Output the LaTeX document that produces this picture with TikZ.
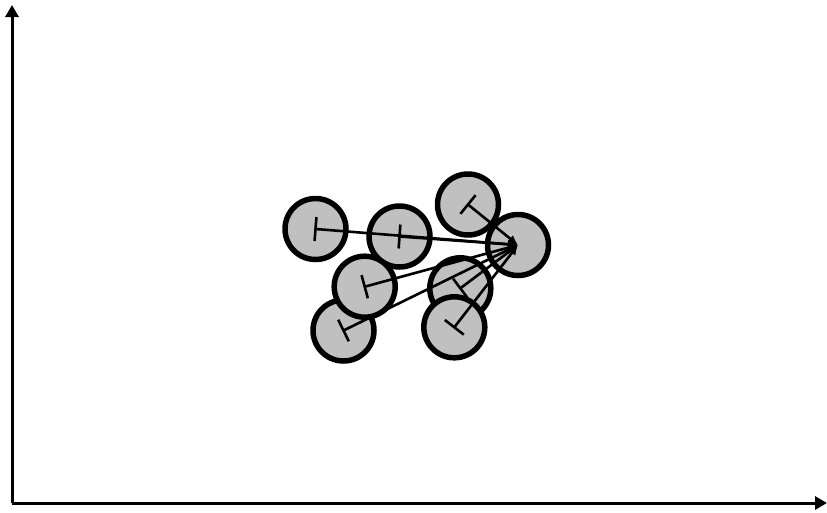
\documentclass[tikz,border=0pt]{standalone}
\usetikzlibrary{arrows.meta,calc}
\definecolor{disc}{RGB}{192,192,192}
\tikzset{
  agent/.style={circle,draw=black,fill=disc,line width=5.5pt,minimum size=61pt,inner sep=0pt},
  axis/.style={line width=3pt,-{Triangle[length=12pt,width=13pt]}},
  pull/.style={line width=2.6pt,-{Latex[length=10pt,width=9pt]}},
  bar/.style={line width=2.6pt}
}
\begin{document}
\begin{tikzpicture}[x=1pt,y=-1pt]
\useasboundingbox (0,0) rectangle (827,512);
\coordinate (o) at (12,503);
\coordinate (ytop) at (12,5);
\coordinate (xend) at (827,503);
\draw[axis] (o) -- (ytop);
\draw[axis] (o) -- (xend);
% discs
\node[agent] (c1) at (315.5,229) {};
\node[agent] (c2) at (399.5,236.5) {};
\node[agent] (c3) at (468,204.5) {};
\node[agent] (t) at (518,245) {};
\node[agent] (c6) at (343.5,330.5) {};
\node[agent] (c5) at (364.7,286.7) {};
\node[agent] (c7) at (460.3,288.3) {};
\node[agent] (c8) at (454.3,327.3) {};
% bars and pulls
\foreach \c in {c1,c2,c3,c5,c6,c7,c8}{
  \draw[bar] ($(\c.center)!12pt!90:(t.center)$) -- ($(\c.center)!12pt!-90:(t.center)$);
  \draw[pull] (\c.center) -- (t.center);
}
\end{tikzpicture}
\end{document}
